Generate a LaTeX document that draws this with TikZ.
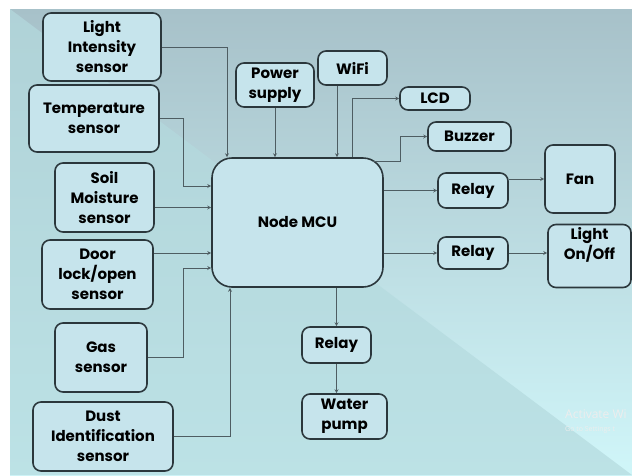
\documentclass[tikz,border=0pt]{standalone}
\usepackage{fontspec}
\usetikzlibrary{arrows.meta}
\setmainfont{Poppins}
\newfontfamily\winfont{Open Sans}
\definecolor{boxfill}{HTML}{C6E4EC}
\definecolor{boxline}{HTML}{2B373C}
\definecolor{wireline}{HTML}{4E5D62}
\definecolor{bgtop}{HTML}{A7C1C9}
\definecolor{bgbottom}{HTML}{D0F6F9}
\definecolor{bgtri}{HTML}{B4DADE}
\begin{document}
\begin{tikzpicture}[x=1pt,y=-1pt,
    blk/.style={draw=boxline,fill=boxfill,line width=1.6pt,rounded corners=8pt,
        align=center,inner sep=1pt,font=\fontsize{15}{20}\selectfont\bfseries},
    con/.style={draw=wireline,line width=0.7pt,-{Stealth[length=4pt,width=4pt]}}]
    % background of the slide
    \fill[white] (0,0) rectangle (632,475);
    \shade[top color=bgtop,bottom color=bgbottom] (10,9) rectangle (632,475);
    \fill[bgtri,opacity=0.7] (10,9) -- (632,475) -- (10,475) -- cycle;

    \node [blk,minimum width=118pt,minimum height=68pt](light) at (102,47){Light\\Intensity\\sensor};
    \node [blk,minimum width=130pt,minimum height=67pt](temp) at (94,118.5){Temperature\\sensor};
    \node [blk,minimum width=99pt,minimum height=69pt](soil) at (104.5,197.5){Soil\\Moisture\\sensor};
    \node [blk,minimum width=111pt,minimum height=69pt](door) at (97.5,274.5){Door\\lock/open\\sensor};
    \node [blk,minimum width=92pt,minimum height=69pt](gas) at (101,357.5){Gas\\sensor};
    \node [blk,minimum width=140pt,minimum height=69pt](dust) at (103,436.5){Dust\\Identification\\sensor};
    \node [blk,minimum width=78pt,minimum height=44pt](power) at (275,85){Power\\supply};
    \node [blk,minimum width=69pt,minimum height=34pt](wifi) at (352.5,68){WiFi};
    \node [blk,minimum width=70pt,minimum height=23pt](lcd) at (435,98.5){LCD};
    \node [blk,minimum width=83pt,minimum height=29pt](buzzer) at (469.5,136.5){Buzzer};
    \node [blk,minimum width=171pt,minimum height=129pt,rounded corners=20pt](mcu) at (297.5,222.5){Node MCU};
    \node [blk,minimum width=70pt,minimum height=35pt](relayA) at (473,190.5){Relay};
    \node [blk,minimum width=70pt,minimum height=68pt](fan) at (580,179){Fan};
    \node [blk,minimum width=70pt,minimum height=32pt](relayB) at (473,253){Relay};
    \node [blk,minimum width=83pt,minimum height=63pt,font=\fontsize{15}{17}\selectfont\bfseries](lamp) at (589.5,256){Light\\On/Off\\[8pt]};
    \node [blk,minimum width=69pt,minimum height=36pt](relayC) at (336.5,345){Relay};
    \node [blk,minimum width=85pt,minimum height=45pt](pump) at (344.5,416.5){Water\\pump};

    % inputs
    \draw[con] (light.east) -| ([xshift=-70.5pt]mcu.north);
    \draw[con] (temp.east) -- ++(24,0) |- ([yshift=36.5pt]mcu.west);
    \draw[con] ([yshift=-10pt]soil.east) -- ([yshift=-10pt]soil.east -| mcu.west);
    \draw[con] ([yshift=21.5pt]door.east) -- ([yshift=21.5pt]door.east -| mcu.west);
    \draw[con] (gas.east) -- ++(36,0) |- ([yshift=-45.5pt]mcu.west);
    \draw[con] (dust.east) -| ([xshift=-67.5pt]mcu.south);
    \draw[con] (power.south) -- (power.south |- mcu.north);
    \draw[con] ([xshift=-15.5pt]wifi.south) -- ([xshift=-15.5pt]wifi.south |- mcu.north);

    % outputs
    \draw[con] ([xshift=54.5pt]mcu.north) |- (lcd.west);
    \draw[con] ([xshift=-11pt,yshift=-4pt]mcu.north east) -- ++(28,0) |- (buzzer.west);
    \draw[con] (relayA.west -| mcu.east) -- (relayA.west);
    \draw[con] (relayA.east |- fan.west) -- (fan.west);
    \draw[con] (relayB.west -| mcu.east) -- (relayB.west);
    \draw[con] (relayB.east) -- (relayB.east -| lamp.west);
    \draw[con] (mcu.south -| relayC.north) -- (relayC.north);
    \draw[con] (relayC.south) -- (relayC.south |- pump.north);

    % watermark of the screenshot
    \node [anchor=base west,text=white!86!gray,font=\winfont\fontsize{12}{12}\selectfont,inner sep=0pt](wmA) at (565,418){Activate Wi};
    \node [anchor=base west,text=white!86!gray,font=\winfont\fontsize{7}{7}\selectfont,inner sep=0pt](wmB) at (565,431){Go to Settings t};
    \useasboundingbox (0,0) rectangle (632,475);
\end{tikzpicture}
\end{document}
